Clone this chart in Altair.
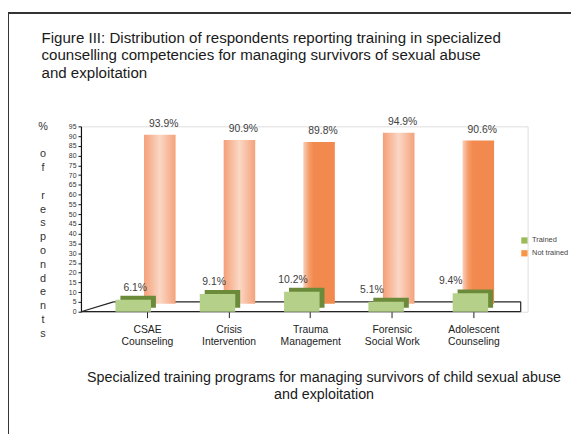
import altair as alt
import pandas as pd

# ---------------- data ----------------
categories = ["CSAE Counseling", "Crisis Intervention", "Trauma Management",
              "Forensic Social Work", "Adolescent Counseling"]
trained = [6.1, 9.1, 10.2, 5.1, 9.4]
not_trained = [93.9, 90.9, 89.8, 94.9, 90.6]
solid_shaded = ["Trauma Management", "Adolescent Counseling"]
series = ["Trained", "Not trained"]
y_ticks = [0, 5, 10, 15, 20, 25, 30, 35, 40, 45, 50, 55, 60, 65, 70, 75, 80, 85, 90, 95]

title_lines = ["Figure III: Distribution of respondents reporting training in specialized",
               "counselling competencies for managing survivors of sexual abuse",
               "and exploitation"]
x_title = ["Specialized training programs for managing survivors of child sexual abuse",
           "and exploitation"]
BL = "\u2800"  # blank glyph used as an empty line
y_title = ["%", BL, "o", "f", BL, "r", "e", "s", "p", "o", "n", "d", "e", "n", "t", "s"]

df = pd.DataFrame({"cat": categories, "trained": trained, "not_trained": not_trained})
one = pd.DataFrame({"a": [0]})
leg = pd.DataFrame({"series": series})

FONT = "Liberation Sans"
W, H = 453, 188


def xs(rng):
    return alt.Scale(domain=categories, range=rng, paddingInner=0, paddingOuter=0)


X_ORANGE = [39.6, 443.4]
X_GREEN = [10.25, 437.75]
X_GLBL = [15, 415]
X_AXIS = [25.6, 439.4]
Y_GREEN = alt.Scale(domain=[0, 95], range=[H, 0], nice=False, zero=True)
Y_ORANGE = alt.Scale(domain=[0, 98.5], range=[180, 0], nice=False, zero=True)

base = alt.Chart(df)

light_grad = alt.Gradient(
    gradient="linear", x1=0, x2=1, y1=0, y2=0,
    stops=[alt.GradientStop(color="#f4a078", offset=0),
           alt.GradientStop(color="#fbd7c5", offset=0.5),
           alt.GradientStop(color="#f4a27b", offset=1)])
dark_grad = alt.Gradient(
    gradient="linear", x1=0, x2=1, y1=0, y2=0,
    stops=[alt.GradientStop(color="#f9cfb8", offset=0),
           alt.GradientStop(color="#f59d6b", offset=0.18),
           alt.GradientStop(color="#f28a50", offset=0.32),
           alt.GradientStop(color="#f28a50", offset=1)])

# frame lines (decoration)
frame_left = alt.Chart(one).mark_rule(color="#333333", strokeWidth=2).encode(
    x=alt.value(-74), y=alt.value(-115), y2=alt.value(320))
frame_top = alt.Chart(one).mark_rule(color="#333333", strokeWidth=2).encode(
    x=alt.value(-75), x2=alt.value(500), y=alt.value(-115))

# floor
floor_back = alt.Chart(one).mark_rule(color="#222222", strokeWidth=1.2).encode(
    x=alt.value(33), x2=alt.value(446), y=alt.value(178))
floor_diag = alt.Chart(one).mark_rule(color="#222222", strokeWidth=1.2).encode(
    x=alt.value(0), x2=alt.value(33), y=alt.value(H), y2=alt.value(178))
floor_right = alt.Chart(one).mark_rule(color="#222222", strokeWidth=1.2).encode(
    x=alt.value(446), y=alt.value(178), y2=alt.value(H))
floor_front = alt.Chart(one).mark_rule(color="#222222", strokeWidth=1.2).encode(
    x=alt.value(0), x2=alt.value(446), y=alt.value(H))

# orange (not trained) bars
orange_light = base.transform_filter(
    alt.FieldOneOfPredicate(field="cat", oneOf=[c for c in categories if c not in solid_shaded])
).mark_bar(size=32, color=light_grad).encode(
    x=alt.X("cat:N", scale=xs(X_ORANGE), axis=None),
    y=alt.Y("not_trained:Q", scale=Y_ORANGE, axis=None))
orange_dark = base.transform_filter(
    alt.FieldOneOfPredicate(field="cat", oneOf=solid_shaded)
).mark_bar(size=32, color=dark_grad).encode(
    x=alt.X("cat:N", scale=xs(X_ORANGE), axis=None),
    y=alt.Y("not_trained:Q", scale=Y_ORANGE, axis=None))
orange_lbl = base.transform_calculate(
    lbl="format(datum.not_trained, '.1f') + '%'"
).mark_text(font=FONT, fontSize=10.5, color="#404040", dx=4, dy=-8, baseline="alphabetic").encode(
    x=alt.X("cat:N", scale=xs(X_ORANGE), axis=None),
    y=alt.Y("not_trained:Q", scale=Y_ORANGE, axis=None),
    text="lbl:N")

# green (trained) bars with extrusion
green_side = base.mark_bar(size=36, color="#6c8b3a", xOffset=5, x2Offset=5,
                           yOffset=-4, y2Offset=-4).encode(
    x=alt.X("cat:N", scale=xs(X_GREEN), axis=None),
    y=alt.Y("trained:Q", scale=Y_GREEN, axis=None))
green_front = base.mark_bar(size=36, color="#b5d088").encode(
    x=alt.X("cat:N", scale=xs(X_GREEN), axis=None),
    y=alt.Y("trained:Q", scale=Y_GREEN, axis=None))
green_lbl = base.transform_calculate(
    lbl="format(datum.trained, '.1f') + '%'"
).mark_text(font=FONT, fontSize=10.5, color="#404040", dy=-9, baseline="alphabetic").encode(
    x=alt.X("cat:N", scale=xs(X_GLBL), axis=None),
    y=alt.Y("trained:Q", scale=Y_GREEN, axis=None),
    text="lbl:N")

# axes layer
axes = base.mark_point(opacity=0).encode(
    x=alt.X("cat:N", scale=xs(X_AXIS),
            axis=alt.Axis(orient="bottom", title=x_title, domain=False, ticks=True,
                          tickSize=6, tickColor="#222222", tickWidth=1, grid=False,
                          labelAngle=0, labelFont=FONT, labelFontSize=10.5,
                          labelColor="#222222", labelPadding=7, labelLineHeight=12,
                          labelBaseline="top",
                          labelExpr="[slice(datum.label, 0, indexof(datum.label, ' ')), slice(datum.label, indexof(datum.label, ' ') + 1)]",
                          titleFont=FONT, titleFontSize=14.5, titleFontWeight="normal",
                          titleColor="#1a1a1a", titleX=246, titleY=60,
                          titleAlign="center", titleBaseline="top", titleLineHeight=17)),
    y=alt.Y("trained:Q", scale=Y_GREEN,
            axis=alt.Axis(orient="left", values=y_ticks, title=y_title, domain=True,
                          domainColor="#111111", domainWidth=1.2, ticks=True,
                          tickSize=3, tickColor="#111111", grid=False,
                          labelFont=FONT, labelFontSize=7, labelColor="#333333",
                          labelPadding=2, titleAngle=0, titleFont=FONT,
                          titleFontSize=11, titleFontWeight="normal", titleColor="#333333",
                          titleX=-39, titleY=-6, titleAlign="center",
                          titleBaseline="top", titleLineHeight=14)))

legend_layer = alt.Chart(leg).mark_square(opacity=0).encode(
    color=alt.Color("series:N",
                    scale=alt.Scale(domain=series, range=["#9bbb59", "#f79646"]),
                    legend=alt.Legend(title=None, orient="none", legendX=446, legendY=112,
                                      symbolType="square", symbolSize=40,
                                      symbolOpacity=1, symbolStrokeWidth=0,
                                      labelFont=FONT, labelFontSize=7.5,
                                      labelColor="#444444", labelOffset=4,
                                      rowPadding=4)))

chart = alt.layer(
    frame_left, frame_top,
    floor_back, floor_diag, floor_right,
    orange_light, orange_dark, orange_lbl,
    floor_front,
    green_side, green_front, green_lbl,
    axes, legend_layer
).resolve_scale(x="independent", y="independent").properties(
    width=W, height=H,
    autosize=alt.AutoSizeParams(type="none"),
    padding={"left": 74, "top": 117, "right": 44, "bottom": 121},
    title=alt.TitleParams(text=title_lines, anchor="start", frame="group", dx=-40,
                          offset=30, dy=100, font=FONT, fontSize=15.3, fontWeight="normal",
                          color="#1a1a1a", lineHeight=17.5),
).configure_view(stroke=None).configure(background="white")

chart.save("out.html", embed_options={"renderer": "svg", "actions": False})
